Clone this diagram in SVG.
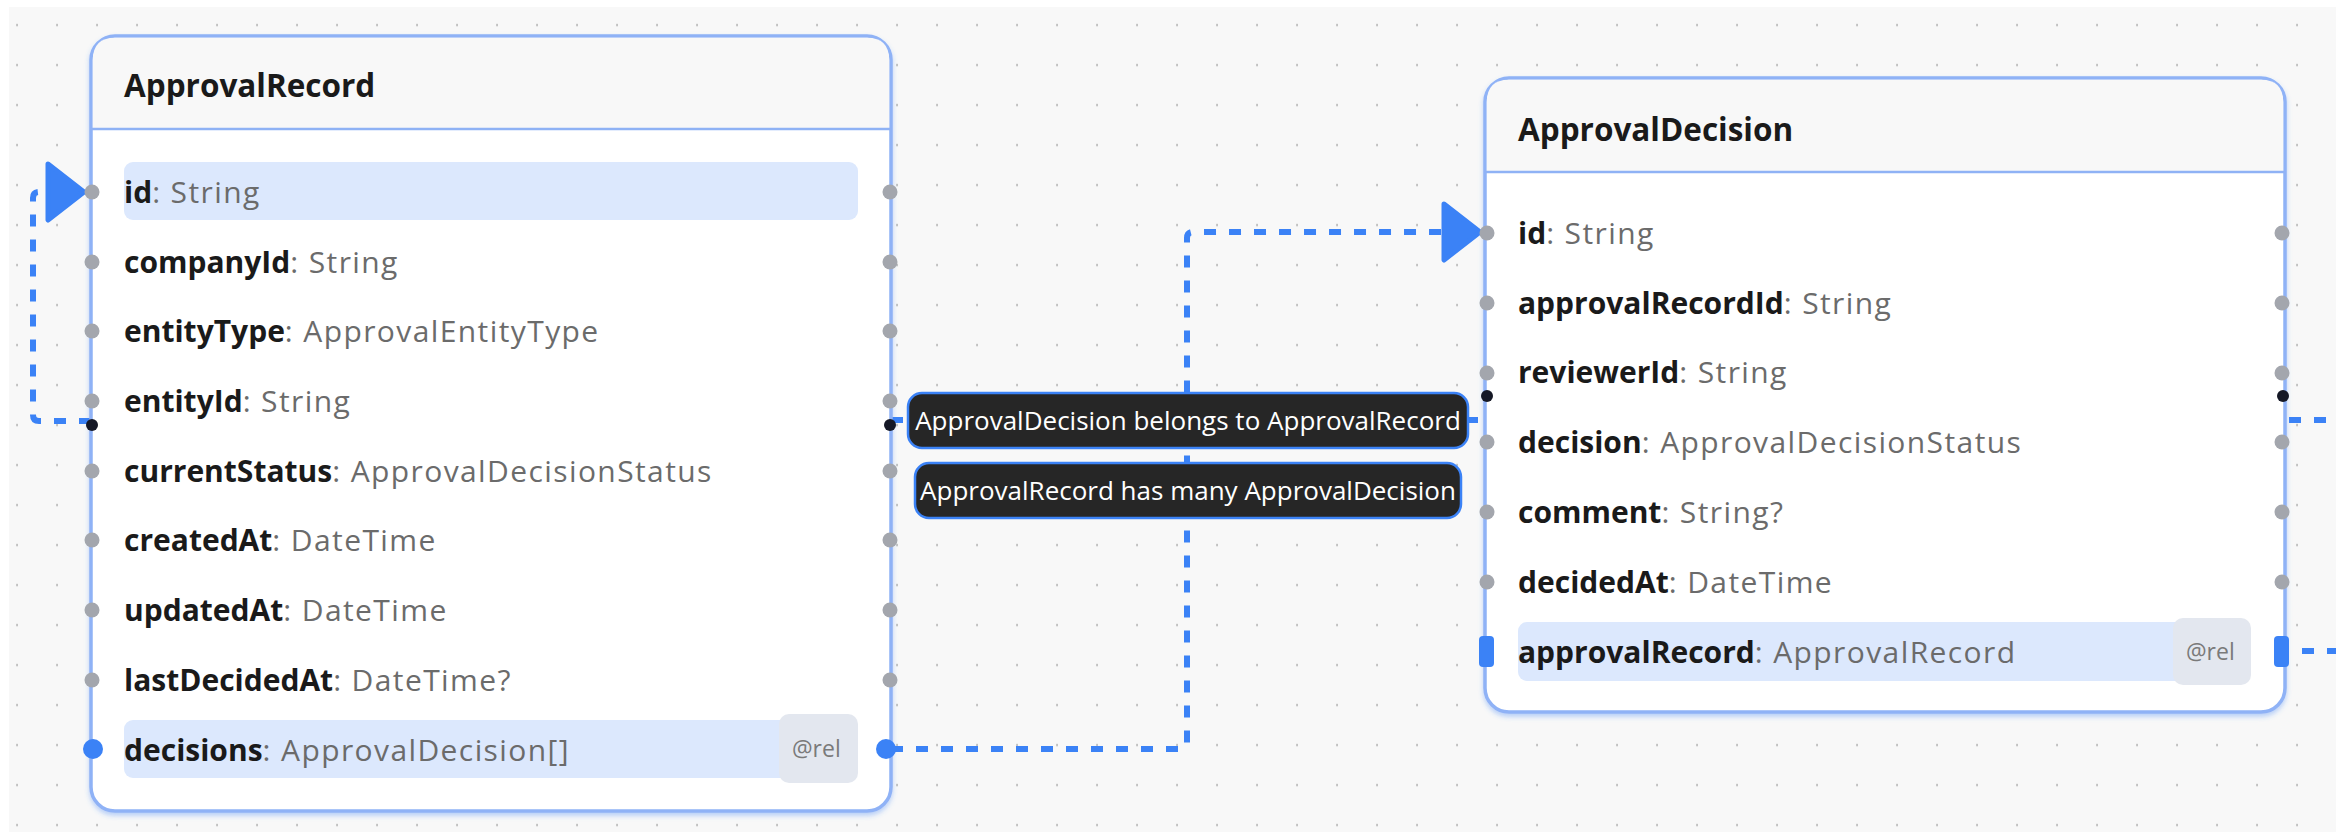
<svg xmlns="http://www.w3.org/2000/svg" width="2336" height="832" viewBox="0 0 2336 832">
<defs>
<pattern id="grid" width="40" height="40" patternUnits="userSpaceOnUse">
<rect x="16.3" y="23.8" width="1.5" height="2.5" fill="#b4b4b4"/>
</pattern>
<filter id="shadow" x="-5%" y="-5%" width="110%" height="112%">
<feDropShadow dx="0" dy="3" stdDeviation="2.5" flood-color="#3b82f6" flood-opacity="0.35"/>
</filter>
<marker id="arrow" markerUnits="userSpaceOnUse" markerWidth="44" markerHeight="66" viewBox="0 0 44 66" refX="40" refY="33" orient="auto">
<path d="M4 5 L40 33 L4 61 Z" fill="#3b82f6" stroke="#3b82f6" stroke-width="5" stroke-linejoin="round"/>
</marker>
<style>
.node{fill:#ffffff;stroke:#8fb2f6;stroke-width:3.5}
.head{fill:#f8f8f8}
.div{stroke:#8fb2f5;stroke-width:2.5}
.title{font-family:"Open Sans","Noto Sans",sans-serif;font-size:31.5px;font-weight:700;fill:#1a1a1a}
.f{font-family:"Open Sans","Noto Sans",sans-serif;font-size:30px}
.n{font-weight:700;fill:#1a1a1a}
.t{fill:#6b6b6b;letter-spacing:1.4px}
.hl{fill:#dce8fd}
.badge{fill:#e3e7ef}
.rel{font-family:"Open Sans","Noto Sans",sans-serif;font-size:23px;fill:#7a7a7a}
.port{fill:#a3a6ad}
.bport{fill:#3b82f6}
.hdl{fill:#151826}
.edge{fill:none;stroke:#3b82f6;stroke-width:6;stroke-dasharray:12 13}
.lbl{fill:#262626;stroke:#3b82f6;stroke-width:2.5}
.lt{font-family:"Open Sans","Noto Sans",sans-serif;font-size:26px;fill:#ffffff}
</style>
</defs>
<rect x="0" y="0" width="2336" height="832" fill="#ffffff"/>
<rect x="9" y="7" width="2327" height="825" fill="#f8f8f8"/>
<rect x="9" y="7" width="2327" height="825" fill="url(#grid)"/>

<g id="connectors">
<path class="edge" d="M91 421 H39 Q33 421 33 415 V198 Q33 192 39 192 H84" marker-end="url(#arrow)"/>
<path class="edge" d="M891 749 H1181 Q1187 749 1187 743 V238 Q1187 232 1193 232 H1480" marker-end="url(#arrow)"/>
<path class="edge" d="M891 420 H1485"/>
<path class="edge" d="M2289 420 H2336"/>
<path class="edge" d="M2302 651 H2336"/>
<g id="label-belongs">
<rect class="lbl" x="908" y="393" width="560" height="55" rx="14"/>
<text class="lt" x="1188" y="430" text-anchor="middle">ApprovalDecision belongs to ApprovalRecord</text>
</g>
<g id="label-hasmany">
<rect class="lbl" x="915" y="463" width="546" height="55" rx="14"/>
<text class="lt" x="1188" y="500" text-anchor="middle">ApprovalRecord has many ApprovalDecision</text>
</g>
</g>

<g id="node-ApprovalRecord">
<g filter="url(#shadow)">
<rect class="node" x="91" y="36" width="800" height="775" rx="24"/>
</g>
<path class="head" d="M92.8 129 V60 Q92.8 37.8 115 37.8 H867 Q889.2 37.8 889.2 60 V129 Z"/>
<line class="div" x1="92" y1="129" x2="890" y2="129"/>
<text class="title" x="124" y="97">ApprovalRecord</text>
<rect class="hl" x="124" y="162" width="734" height="58" rx="9"/>
<rect class="hl" x="124" y="720" width="734" height="58" rx="9"/>
<rect class="badge" x="779" y="714" width="79" height="69" rx="10"/>
<text class="rel" x="792" y="757">@rel</text>
<text class="f" x="124" y="202.5"><tspan class="n">id</tspan><tspan class="t">: String</tspan></text>
<text class="f" x="124" y="272.5"><tspan class="n">companyId</tspan><tspan class="t">: String</tspan></text>
<text class="f" x="124" y="342"><tspan class="n">entityType</tspan><tspan class="t">: ApprovalEntityType</tspan></text>
<text class="f" x="124" y="411.5"><tspan class="n">entityId</tspan><tspan class="t">: String</tspan></text>
<text class="f" x="124" y="481.5"><tspan class="n">currentStatus</tspan><tspan class="t">: ApprovalDecisionStatus</tspan></text>
<text class="f" x="124" y="551"><tspan class="n">createdAt</tspan><tspan class="t">: DateTime</tspan></text>
<text class="f" x="124" y="621"><tspan class="n">updatedAt</tspan><tspan class="t">: DateTime</tspan></text>
<text class="f" x="124" y="690.5"><tspan class="n">lastDecidedAt</tspan><tspan class="t">: DateTime?</tspan></text>
<text class="f" x="124" y="760.5"><tspan class="n">decisions</tspan><tspan class="t">: ApprovalDecision[]</tspan></text>
<g>
<circle class="port" cx="92" cy="192" r="7.5"/><circle class="port" cx="890" cy="192" r="7.5"/>
<circle class="port" cx="92" cy="262" r="7.5"/><circle class="port" cx="890" cy="262" r="7.5"/>
<circle class="port" cx="92" cy="331" r="7.5"/><circle class="port" cx="890" cy="331" r="7.5"/>
<circle class="port" cx="92" cy="401" r="7.5"/><circle class="port" cx="890" cy="401" r="7.5"/>
<circle class="port" cx="92" cy="471" r="7.5"/><circle class="port" cx="890" cy="471" r="7.5"/>
<circle class="port" cx="92" cy="540" r="7.5"/><circle class="port" cx="890" cy="540" r="7.5"/>
<circle class="port" cx="92" cy="610" r="7.5"/><circle class="port" cx="890" cy="610" r="7.5"/>
<circle class="port" cx="92" cy="680" r="7.5"/><circle class="port" cx="890" cy="680" r="7.5"/>
<circle class="bport" cx="93" cy="749" r="10"/><circle class="bport" cx="886" cy="749" r="10"/>
<circle class="hdl" cx="92" cy="425" r="6"/><circle class="hdl" cx="890" cy="425" r="6"/>
</g>
</g>

<g id="node-ApprovalDecision">
<g filter="url(#shadow)">
<rect class="node" x="1485" y="78" width="800" height="634" rx="24"/>
</g>
<path class="head" d="M1486.8 172 V102 Q1486.8 79.8 1509 79.8 H2261 Q2283.2 79.8 2283.2 102 V172 Z"/>
<line class="div" x1="1486" y1="172" x2="2284" y2="172"/>
<text class="title" x="1518" y="141">ApprovalDecision</text>
<rect class="hl" x="1518" y="622" width="733" height="59" rx="9"/>
<rect class="badge" x="2173" y="618" width="78" height="67" rx="10"/>
<text class="rel" x="2186" y="660">@rel</text>
<text class="f" x="1518" y="243.5"><tspan class="n">id</tspan><tspan class="t">: String</tspan></text>
<text class="f" x="1518" y="313.5"><tspan class="n">approvalRecordId</tspan><tspan class="t">: String</tspan></text>
<text class="f" x="1518" y="383"><tspan class="n">reviewerId</tspan><tspan class="t">: String</tspan></text>
<text class="f" x="1518" y="453"><tspan class="n">decision</tspan><tspan class="t">: ApprovalDecisionStatus</tspan></text>
<text class="f" x="1518" y="523"><tspan class="n">comment</tspan><tspan class="t">: String?</tspan></text>
<text class="f" x="1518" y="592.5"><tspan class="n">decidedAt</tspan><tspan class="t">: DateTime</tspan></text>
<text class="f" x="1518" y="662.5"><tspan class="n">approvalRecord</tspan><tspan class="t">: ApprovalRecord</tspan></text>
<g>
<circle class="port" cx="1487" cy="233" r="7.5"/><circle class="port" cx="2282" cy="233" r="7.5"/>
<circle class="port" cx="1487" cy="303" r="7.5"/><circle class="port" cx="2282" cy="303" r="7.5"/>
<circle class="port" cx="1487" cy="373" r="7.5"/><circle class="port" cx="2282" cy="373" r="7.5"/>
<circle class="port" cx="1487" cy="442" r="7.5"/><circle class="port" cx="2282" cy="442" r="7.5"/>
<circle class="port" cx="1487" cy="512" r="7.5"/><circle class="port" cx="2282" cy="512" r="7.5"/>
<circle class="port" cx="1487" cy="582" r="7.5"/><circle class="port" cx="2282" cy="582" r="7.5"/>
<rect class="bport" x="1479" y="636" width="15" height="31" rx="4"/><rect class="bport" x="2274" y="636" width="15" height="31" rx="4"/>
<circle class="hdl" cx="1487" cy="396" r="6"/><circle class="hdl" cx="2283" cy="396" r="6"/>
</g>
</g>
</svg>
